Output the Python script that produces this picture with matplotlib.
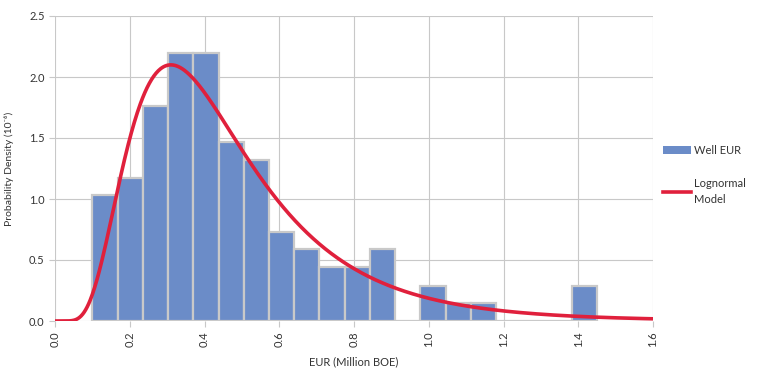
import numpy as np
import matplotlib
matplotlib.use('Agg')
import matplotlib.pyplot as plt
from matplotlib.patches import Patch
from matplotlib.lines import Line2D

plt.rcParams['font.family'] = ['Lato', 'DejaVu Sans']

# histogram of well EUR (density)
bin_start = 0.1
bin_width = 0.0675
densities = [1.03, 1.17, 1.76, 2.20, 2.20, 1.47, 1.32, 0.73, 0.59, 0.44,
             0.44, 0.59, 0.0, 0.29, 0.15, 0.15, 0.0, 0.0, 0.0, 0.29]

# lognormal model parameters
mu = -0.888
sigma = 0.532

x_ticks = [0.0, 0.2, 0.4, 0.6, 0.8, 1.0, 1.2, 1.4, 1.6]
y_ticks = [0.0, 0.5, 1.0, 1.5, 2.0, 2.5]

bar_color = '#6b8cc8'
edge_color = '#c9c9c9'
line_color = '#e0203c'
grid_color = '#c8c8c8'
text_color = '#333333'


def lognormal_pdf(x, mu, sigma):
    x = np.asarray(x, dtype=float)
    out = np.zeros_like(x)
    pos = x > 0
    out[pos] = np.exp(-(np.log(x[pos]) - mu) ** 2 / (2 * sigma ** 2)) / (x[pos] * sigma * np.sqrt(2 * np.pi))
    return out


def main():
    fig = plt.figure(figsize=(7.6, 3.74), dpi=100)
    ax = fig.add_axes([55 / 760, 1 - 321 / 374, 598 / 760, 305 / 374])

    lefts = [bin_start + i * bin_width for i in range(len(densities))]
    ax.bar(lefts, densities, width=bin_width, align='edge', color=bar_color,
           edgecolor=edge_color, linewidth=1.6, zorder=2)

    xs = np.linspace(0, 1.6, 800)
    ax.plot(xs, lognormal_pdf(xs, mu, sigma), color=line_color, linewidth=2.6,
            solid_capstyle='butt', zorder=3)

    ax.set_xlim(0, 1.6)
    ax.set_ylim(0, 2.5)
    ax.set_xticks(x_ticks)
    ax.set_yticks(y_ticks)
    ax.set_xticklabels(['%.1f' % v for v in x_ticks], rotation=90)
    ax.set_yticklabels(['%.1f' % v for v in y_ticks])
    ax.tick_params(axis='both', colors=grid_color, labelcolor=text_color,
                   labelsize=8, length=4, width=0.8)
    ax.grid(True, color=grid_color, linewidth=0.8, zorder=0)
    ax.set_axisbelow(True)
    for s in ax.spines.values():
        s.set_visible(False)

    ax.set_xlabel('EUR (Million BOE)', fontsize=8, color=text_color)
    ax.xaxis.set_label_coords(0.5, -0.115)
    ax.set_ylabel('Probability Density (10\u207b\u2076)', fontsize=7.5, color=text_color)
    ax.yaxis.set_label_coords(-0.068, 0.5)

    handles = [Patch(facecolor=bar_color, edgecolor='none'),
               Line2D([0], [0], color=line_color, linewidth=2.6)]
    leg = fig.legend(handles, ['Well EUR', 'Lognormal\nModel'], loc='upper left',
                     bbox_to_anchor=(653 / 760, 1 - 135 / 374), frameon=False,
                     fontsize=8, labelspacing=2.0, handlelength=2.5, handletextpad=0.3,
                     labelcolor=text_color)
    for t in leg.get_texts():
        t.set_linespacing(1.5)

    fig.savefig('out.png', dpi=100, facecolor='w')
    plt.close(fig)


if __name__ == '__main__':
    main()
